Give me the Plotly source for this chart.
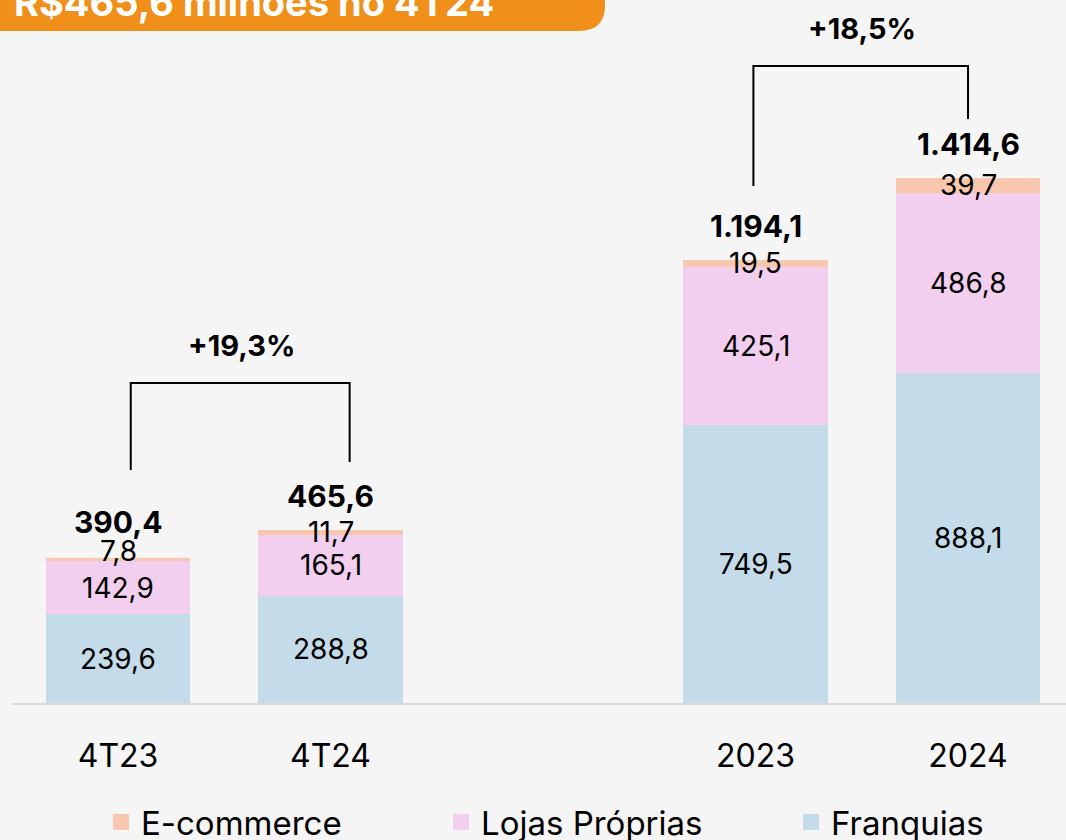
import plotly.graph_objects as go

categories = ["4T23", "4T24", "2023", "2024"]
positions = [0, 1, 3, 4]
franquias = [239.6, 288.8, 749.5, 888.1]
lojas = [142.9, 165.1, 425.1, 486.8]
ecommerce = [7.8, 11.7, 19.5, 39.7]
totals = [390.4, 465.6, 1194.1, 1414.6]
total_labels = ["390,4", "465,6", "1.194,1", "1.414,6"]
fr_labels = ["239,6", "288,8", "749,5", "888,1"]
lj_labels = ["142,9", "165,1", "425,1", "486,8"]
ec_labels = ["7,8", "11,7", "19,5", "39,7"]
growth = [("+19,3%", 0, 1), ("+18,5%", 3, 4)]
title_text = "R$465,6 milhões no 4T24"

C_FR = "#c4dce9"
C_LJ = "#f2cfee"
C_EC = "#f7c8ad"
BG = "#f5f5f5"
FONT = "Inter"

W, H = 1066, 840
ML, MR, MT, MB = 12, 0, 0, 137
PW, PH = W - ML - MR, H - MT - MB

def px_x(p):
    return (p - ML) / PW

def px_y(p):
    return (H - MB - p) / PH

fig = go.Figure()
for name, vals, col in [("Franquias", franquias, C_FR), ("Lojas Próprias", lojas, C_LJ), ("E-commerce", ecommerce, C_EC)]:
    fig.add_trace(go.Bar(x=positions, y=vals, name=name, marker=dict(color=col, line=dict(width=0)),
                         width=0.678, showlegend=False, hoverinfo="skip"))
# legend entries (one legend per entry so each can be placed like the reference)
for name, col, lg in [("E-commerce", C_EC, "legend"), ("Lojas Próprias", C_LJ, "legend2"), ("Franquias", C_FR, "legend3")]:
    fig.add_trace(go.Scatter(x=[None], y=[None], mode="markers", name=name, legend=lg,
                             marker=dict(symbol="square", size=22, color=col)))

ann = []
for i, x in enumerate(positions):
    f, l, e = franquias[i], lojas[i], ecommerce[i]
    ann.append(dict(x=x, y=f / 2, text=fr_labels[i], showarrow=False, font=dict(size=28, color="black", family=FONT)))
    ann.append(dict(x=x, y=f + l / 2, text=lj_labels[i], showarrow=False, font=dict(size=28, color="black", family=FONT)))
    ann.append(dict(x=x, y=f + l + e / 2, text=ec_labels[i], showarrow=False,
                    yshift=9 if i == 0 else 0, font=dict(size=28, color="black", family=FONT)))
    ann.append(dict(x=x, y=totals[i], text="<b>" + total_labels[i] + "</b>", showarrow=False,
                    yshift=36 if i == 0 else 34,
                    font=dict(size=30, color="black", family=FONT)))

shapes = []
# brackets
br = [((0.06, 628), (0.06, 862), (1.09, 862), (1.09, 649), 964, 0.58),
      ((2.99, 1393), (2.99, 1716), (4.0, 1716), (4.0, 1573), 1818, 3.5)]
for (g, (a, b, c, d, ty, tx)) in zip(growth, br):
    path = f"M {a[0]},{a[1]} L {b[0]},{b[1]} L {c[0]},{c[1]} L {d[0]},{d[1]}"
    shapes.append(dict(type="path", path=path, xref="x", yref="y", line=dict(color="black", width=2)))
    ann.append(dict(x=tx, y=ty, text="<b>" + g[0] + "</b>", showarrow=False,
                    font=dict(size=29, color="black", family=FONT)))

# orange banner
x0, x1, ytop, ybot, r = px_x(-5), px_x(605), px_y(-10), px_y(31), 26
path = (f"M {x0},{ytop} L {x1},{ytop} L {x1},{px_y(31 - r)} "
        f"Q {x1},{ybot} {px_x(605 - r)},{ybot} L {x0},{ybot} Z")
shapes.append(dict(type="path", path=path, xref="paper", yref="paper", fillcolor="#f08f1a",
                   line=dict(width=0), layer="above"))
ann.append(dict(x=px_x(12), y=px_y(2), xref="paper", yref="paper", xanchor="left", yanchor="middle",
                text="<b>" + title_text + "</b>", showarrow=False,
                font=dict(size=38, color="white", family=FONT)))

leg_common = dict(orientation="h", yanchor="middle", xanchor="left", y=px_y(822),
                  font=dict(size=33, family=FONT, color="black"), bgcolor="rgba(0,0,0,0)")

fig.update_layout(
    width=W, height=H, barmode="stack",
    paper_bgcolor=BG, plot_bgcolor=BG,
    margin=dict(l=ML, r=MR, t=MT, b=MB, autoexpand=False),
    font=dict(family=FONT, color="black"),
    xaxis=dict(range=[-0.4988, 4.461], tickvals=positions, ticktext=categories,
               showline=True, linecolor="#d9d9d9", linewidth=2, showgrid=False, zeroline=False,
               tickfont=dict(size=32, family=FONT, color="black"), ticks="", ticklabelstandoff=24),
    yaxis=dict(range=[0, 703 / 0.3712], visible=False, showgrid=False),
    legend=dict(x=px_x(101), **leg_common),
    legend2=dict(x=px_x(441), **leg_common),
    legend3=dict(x=px_x(791), **leg_common),
    annotations=ann, shapes=shapes,
)
fig.write_html("out.html", config={"displayModeBar": False},
               post_script="document.body.style.margin='0';")
